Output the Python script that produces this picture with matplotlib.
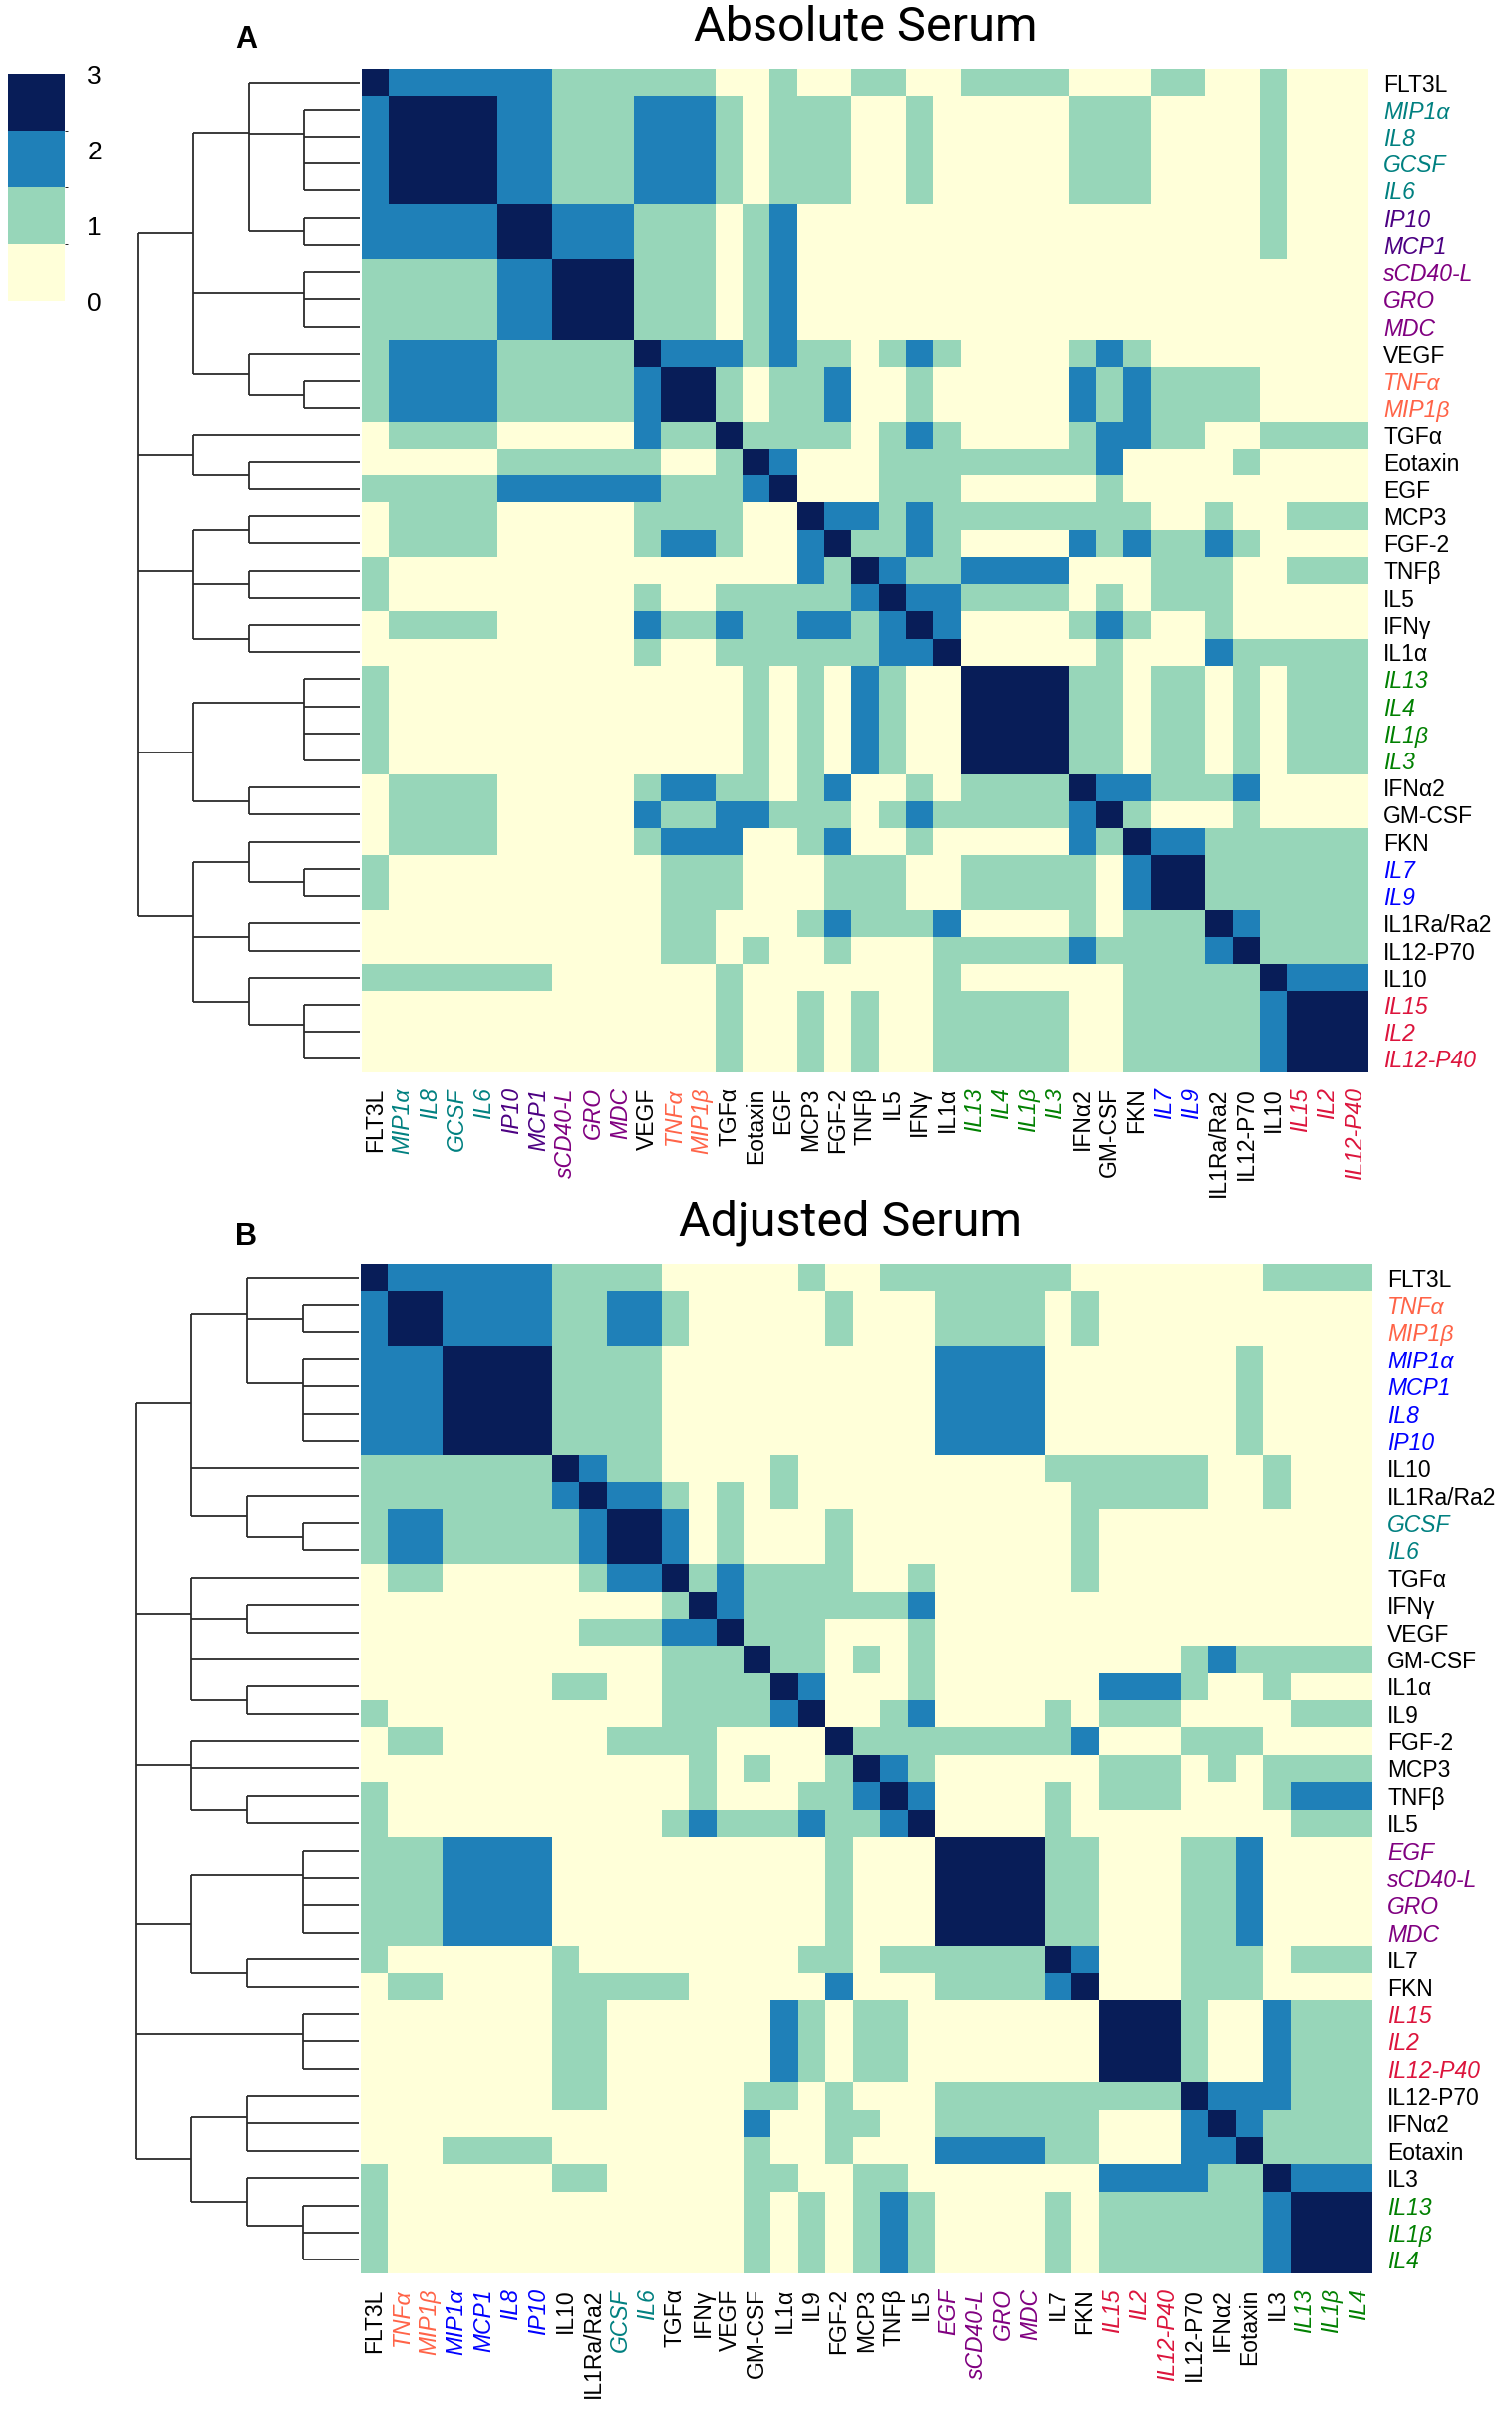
import numpy as np
import matplotlib
matplotlib.use("Agg")
import matplotlib.pyplot as plt
from matplotlib.colors import ListedColormap, BoundaryNorm
from matplotlib.cm import ScalarMappable

# ---- data -------------------------------------------------------------
labels_a = ['FLT3L', 'MIP1α', 'IL8', 'GCSF', 'IL6', 'IP10', 'MCP1', 'sCD40-L',
            'GRO', 'MDC', 'VEGF', 'TNFα', 'MIP1β', 'TGFα', 'Eotaxin', 'EGF',
            'MCP3', 'FGF-2', 'TNFβ', 'IL5', 'IFNγ', 'IL1α', 'IL13', 'IL4',
            'IL1β', 'IL3', 'IFNα2', 'GM-CSF', 'FKN', 'IL7', 'IL9', 'IL1Ra/Ra2',
            'IL12-P70', 'IL10', 'IL15', 'IL2', 'IL12-P40']

labels_b = ['FLT3L', 'TNFα', 'MIP1β', 'MIP1α', 'MCP1', 'IL8', 'IP10', 'IL10',
            'IL1Ra/Ra2', 'GCSF', 'IL6', 'TGFα', 'IFNγ', 'VEGF', 'GM-CSF',
            'IL1α', 'IL9', 'FGF-2', 'MCP3', 'TNFβ', 'IL5', 'EGF', 'sCD40-L',
            'GRO', 'MDC', 'IL7', 'FKN', 'IL15', 'IL2', 'IL12-P40', 'IL12-P70',
            'IFNα2', 'Eotaxin', 'IL3', 'IL13', 'IL1β', 'IL4']

# upper triangle (diagonal onwards) of each symmetric score matrix, one string per row
_r1 = "22111222101110010000011100001000"
_t22 = "11011010111"
upper_a = [
    "3222222111111001001100111100011001000",
    "3333" + _r1, "333" + _r1, "33" + _r1, "3" + _r1,
    "33" + "222" + "111" + "012" + "000" + "0" * 14 + "1000",
    "3" + "222" + "111" + "012" + "000" + "0" * 14 + "1000",
    "333" + "111" + "012" + "000" + "0" * 18,
    "33" + "111" + "012" + "000" + "0" * 18,
    "3" + "111" + "012" + "000" + "0" * 18,
    "322212110121000012100000000",
    "33101120010000021211110000",
    "3101120010000021211110000",
    "311110121000012211001111",
    "32000111111112000010000",
    "3000111000001000000000",
    "322121111111100100111",
    "31121000021211210000",
    "3211222200011100111",
    "322111101011100000",
    "32000012100100000",
    "3000001000211111",
    "3333" + _t22, "333" + _t22, "33" + _t22, "3" + _t22,
    "32211120000",
    "3100010000",
    "322111111",
    "33111111",
    "3111111",
    "321111",
    "31111",
    "3222",
    "333", "33", "3",
]

_t3 = "1111" + "0" * 10 + "2222" + "0" * 7 + "1" + "0000"
_t21 = "110001120000"
_t27 = "1002111"
upper_b = [
    "3222222111100000100111111100000001111",
    "33222211221000001000111101" + "0" * 10,
    "3222211221000001000111101" + "0" * 10,
    "3333" + _t3, "333" + _t3, "33" + _t3, "3" + _t3,
    "321100001000000000111111001000",
    "32210101000000000011111001000",
    "3320100010000000010000000000",
    "320100010000000010000000000",
    "31211110010000010000000000",
    "3211111120000000000000000",
    "311100010000000000000000",
    "31101010000000001211111",
    "3200010000002221001000",
    "300120000101110000111",
    "31111111120001110000",
    "3210000001110101111",
    "320000101110001222",
    "30000100000000111",
    "3333" + _t21, "333" + _t21, "33" + _t21, "3" + _t21,
    "320001110111",
    "30001110000",
    "333" + _t27, "33" + _t27, "3" + _t27,
    "3222111",
    "321111",
    "31111",
    "3222",
    "333", "33", "3",
]

# dendrograms: (merge level, children...) ; leaves are row indices
tree_a = (4,
          (3, (2, 0, (1, 1, 2, 3, 4), (1, 5, 6)), (1, 7, 8, 9), (2, 10, (1, 11, 12))),
          (3, 13, (2, 14, 15)),
          (3, (2, 16, 17), (2, 18, 19), (2, 20, 21)),
          (3, (1, 22, 23, 24, 25), (2, 26, 27)),
          (3, (2, 28, (1, 29, 30)), (2, 31, 32), (2, 33, (1, 34, 35, 36))))

tree_b = (4,
          (3, (2, 0, (1, 1, 2), (1, 3, 4, 5, 6)), 7, (2, 8, (1, 9, 10))),
          (3, 11, (2, 12, 13), 14, (2, 15, 16)),
          (3, 17, 18, (2, 19, 20)),
          (3, (1, 21, 22, 23, 24), (2, 25, 26)),
          (1, 27, 28, 29),
          (3, (2, 30, 31, 32), (2, 33, (1, 34, 35, 36))))

TEAL, INDIGO, PURPLE = '#008080', '#4B0082', '#800080'
TOMATO, GREEN, BLUE, CRIMSON = '#FF6347', '#008000', '#0000FF', '#DC143C'

label_colors_a = {'MIP1α': TEAL, 'IL8': TEAL, 'GCSF': TEAL, 'IL6': TEAL,
                  'IP10': INDIGO, 'MCP1': INDIGO,
                  'sCD40-L': PURPLE, 'GRO': PURPLE, 'MDC': PURPLE,
                  'TNFα': TOMATO, 'MIP1β': TOMATO,
                  'IL13': GREEN, 'IL4': GREEN, 'IL1β': GREEN, 'IL3': GREEN,
                  'IL7': BLUE, 'IL9': BLUE,
                  'IL15': CRIMSON, 'IL2': CRIMSON, 'IL12-P40': CRIMSON}

label_colors_b = {'TNFα': TOMATO, 'MIP1β': TOMATO,
                  'MIP1α': BLUE, 'MCP1': BLUE, 'IL8': BLUE, 'IP10': BLUE,
                  'GCSF': TEAL, 'IL6': TEAL,
                  'EGF': PURPLE, 'sCD40-L': PURPLE, 'GRO': PURPLE, 'MDC': PURPLE,
                  'IL15': CRIMSON, 'IL2': CRIMSON, 'IL12-P40': CRIMSON,
                  'IL13': GREEN, 'IL1β': GREEN, 'IL4': GREEN}

cmap = ListedColormap(['#ffffd9', '#97d6b9', '#1f80b8', '#081d58'])


def build_matrix(upper):
    n = len(upper)
    m = np.zeros((n, n), dtype=int)
    for i, row in enumerate(upper):
        vals = [int(ch) for ch in row]
        m[i, i:] = vals
        m[i:, i] = vals
    return m


mat_a = build_matrix(upper_a)
mat_b = build_matrix(upper_b)

# ---- figure -----------------------------------------------------------
W, H = 1517, 2418
fig = plt.figure(figsize=(W / 100, H / 100), dpi=100)
plt.rcParams['font.family'] = ['Liberation Sans', 'DejaVu Sans']


def box(x0, y0, x1, y1):
    return [x0 / W, 1 - y1 / H, (x1 - x0) / W, (y1 - y0) / H]


def draw_tree(ax, node):
    if isinstance(node, int):
        return node + 0.5, 0
    h = node[0]
    kids = [draw_tree(ax, c) for c in node[1:]]
    ys = [k[0] for k in kids]
    for y, ch in kids:
        ax.plot([h, ch], [y, y], color='#2b2b2b', lw=1.3, solid_capstyle='butt')
    ax.plot([h, h], [min(ys), max(ys)], color='#2b2b2b', lw=1.3, solid_capstyle='butt')
    pos = ys[-1]
    for y in reversed(ys[:-1]):
        pos = (y + pos) / 2
    return pos, h


def panel(mat, labels, colors, tree, hm_box, dn_box, title, title_xy, letter, letter_y):
    n = len(labels)
    ax = fig.add_axes(box(*hm_box))
    norm = BoundaryNorm([-0.5, 0.5, 1.5, 2.5, 3.5], cmap.N)
    ax.pcolormesh(np.arange(n + 1), np.arange(n + 1), mat, cmap=cmap, norm=norm)
    ax.set_xlim(0, n)
    ax.set_ylim(n, 0)
    for s in ax.spines.values():
        s.set_visible(False)
    ax.yaxis.tick_right()
    ax.set_yticks(np.arange(n) + 0.5)
    ax.set_xticks(np.arange(n) + 0.5)
    ax.set_yticklabels(labels, fontsize=16.5)
    ax.set_xticklabels(labels, fontsize=16.5, rotation=90)
    ax.tick_params(length=0, pad=11)
    for t in ax.get_yticklabels() + ax.get_xticklabels():
        c = colors.get(t.get_text())
        if c:
            t.set_color(c)
            t.set_fontstyle('italic')

    dax = fig.add_axes(box(*dn_box))
    draw_tree(dax, tree)
    dax.set_xlim(4.02, 0)
    dax.set_ylim(n, 0)
    dax.axis('off')

    fig.text(title_xy[0] / W, 1 - title_xy[1] / H, title, fontsize=35, family='Roboto',
             ha='center', va='center')
    fig.text(247 / W, 1 - letter_y / H, letter, fontsize=22, fontweight='bold',
             ha='center', va='center')


panel(mat_a, labels_a, label_colors_a, tree_a, (363, 69, 1373, 1076), (137, 69, 361, 1076),
      'Absolute Serum', (868, 28), 'A', 40)
panel(mat_b, labels_b, label_colors_b, tree_b, (362, 1268, 1377, 2281), (135, 1268, 360, 2281),
      'Adjusted Serum', (853, 1227), 'B', 1241)

# discrete colour key
cax = fig.add_axes(box(8, 74, 65, 302))
cb = fig.colorbar(ScalarMappable(norm=BoundaryNorm([0, 0.75, 1.5, 2.25, 3], cmap.N), cmap=cmap),
                  cax=cax, ticks=[0, 1, 2, 3])
cb.outline.set_visible(False)
cax.tick_params(length=0, pad=16, labelsize=19)

fig.savefig('out.png', dpi=100)
